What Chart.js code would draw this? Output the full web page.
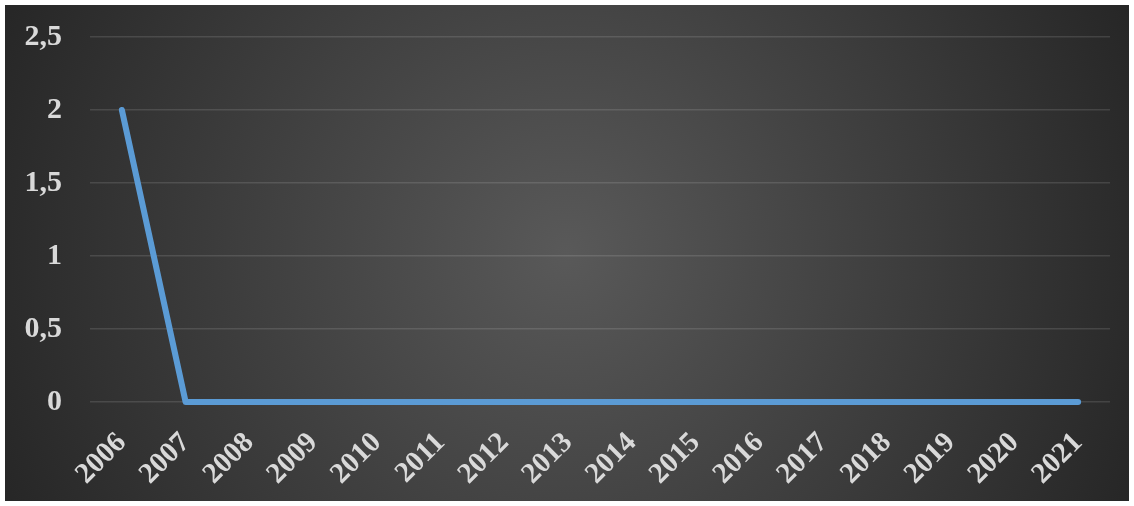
<!DOCTYPE html>
<html>
<head>
<meta charset="utf-8">
<script src="https://cdn.jsdelivr.net/npm/chart.js@4/dist/chart.umd.min.js"></script>
<style>
  html, body { margin: 0; padding: 0; background: #fff; }
  #wrap { position: absolute; left: 5px; top: 5px; width: 1124px; height: 496px; }
</style>
</head>
<body>
<div id="wrap"><canvas id="c"></canvas></div>
<script>
// data
var years = ['2006', '2007', '2008', '2009', '2010', '2011', '2012', '2013',
             '2014', '2015', '2016', '2017', '2018', '2019', '2020', '2021'];
var values = [2, 0, 0, 0, 0, 0, 0, 0, 0, 0, 0, 0, 0, 0, 0, 0];
var yTicks = [0, 0.5, 1, 1.5, 2, 2.5];

var bgPlugin = {
    id: 'bg',
    beforeDraw: function (chart) {
        var ctx = chart.ctx, w = chart.width, h = chart.height;
        var g = ctx.createRadialGradient(w / 2, h / 2, 0, w / 2, h / 2, w * 0.55);
        g.addColorStop(0, '#595959');
        g.addColorStop(1, '#262626');
        ctx.save();
        ctx.fillStyle = g;
        ctx.fillRect(0, 0, w, h);
        ctx.restore();
    }
};

var serif = '"Liberation Serif", "Times New Roman", serif';

new Chart(document.getElementById('c'), {
    type: 'line',
    data: {
        labels: years,
        datasets: [{
            data: values,
            borderColor: '#5B9BD5',
            borderWidth: 6,
            borderCapStyle: 'round',
            borderJoinStyle: 'round',
            pointRadius: 0,
            tension: 0,
            fill: false,
            clip: false
        }]
    },
    options: {
        responsive: true,
        maintainAspectRatio: false,
        animation: false,
        layout: {padding: {top: 32, right: 19, bottom: 0, left: 0}},
        plugins: {legend: {display: false}, tooltip: {enabled: false}},
        scales: {
            x: {
                offset: true,
                afterFit: function (s) { s.height = 99; },
                grid: {display: false, drawTicks: false},
                border: {display: false},
                ticks: {
                    color: '#d9d9d9', font: {family: serif, size: 29, weight: 'bold'}, padding: 24,
                    maxRotation: 45, minRotation: 45, autoSkip: false
                }
            },
            y: {
                min: 0, max: 2.5,
                afterBuildTicks: function (s) { s.ticks = yTicks.map(function (v) { return {value: v}; }); },
                afterFit: function (s) { s.width = 85; s.paddingTop = 0; s.paddingBottom = 0; },
                grid: {color: 'rgba(255,255,255,0.12)', lineWidth: 1.5, drawTicks: false},
                border: {display: false},
                ticks: {
                    color: '#d9d9d9', font: {family: serif, size: 30, weight: 'bold'}, padding: 28,
                    callback: function (v) { return String(v).replace('.', ','); }
                }
            }
        }
    },
    plugins: [bgPlugin]
});
</script>
</body>
</html>
